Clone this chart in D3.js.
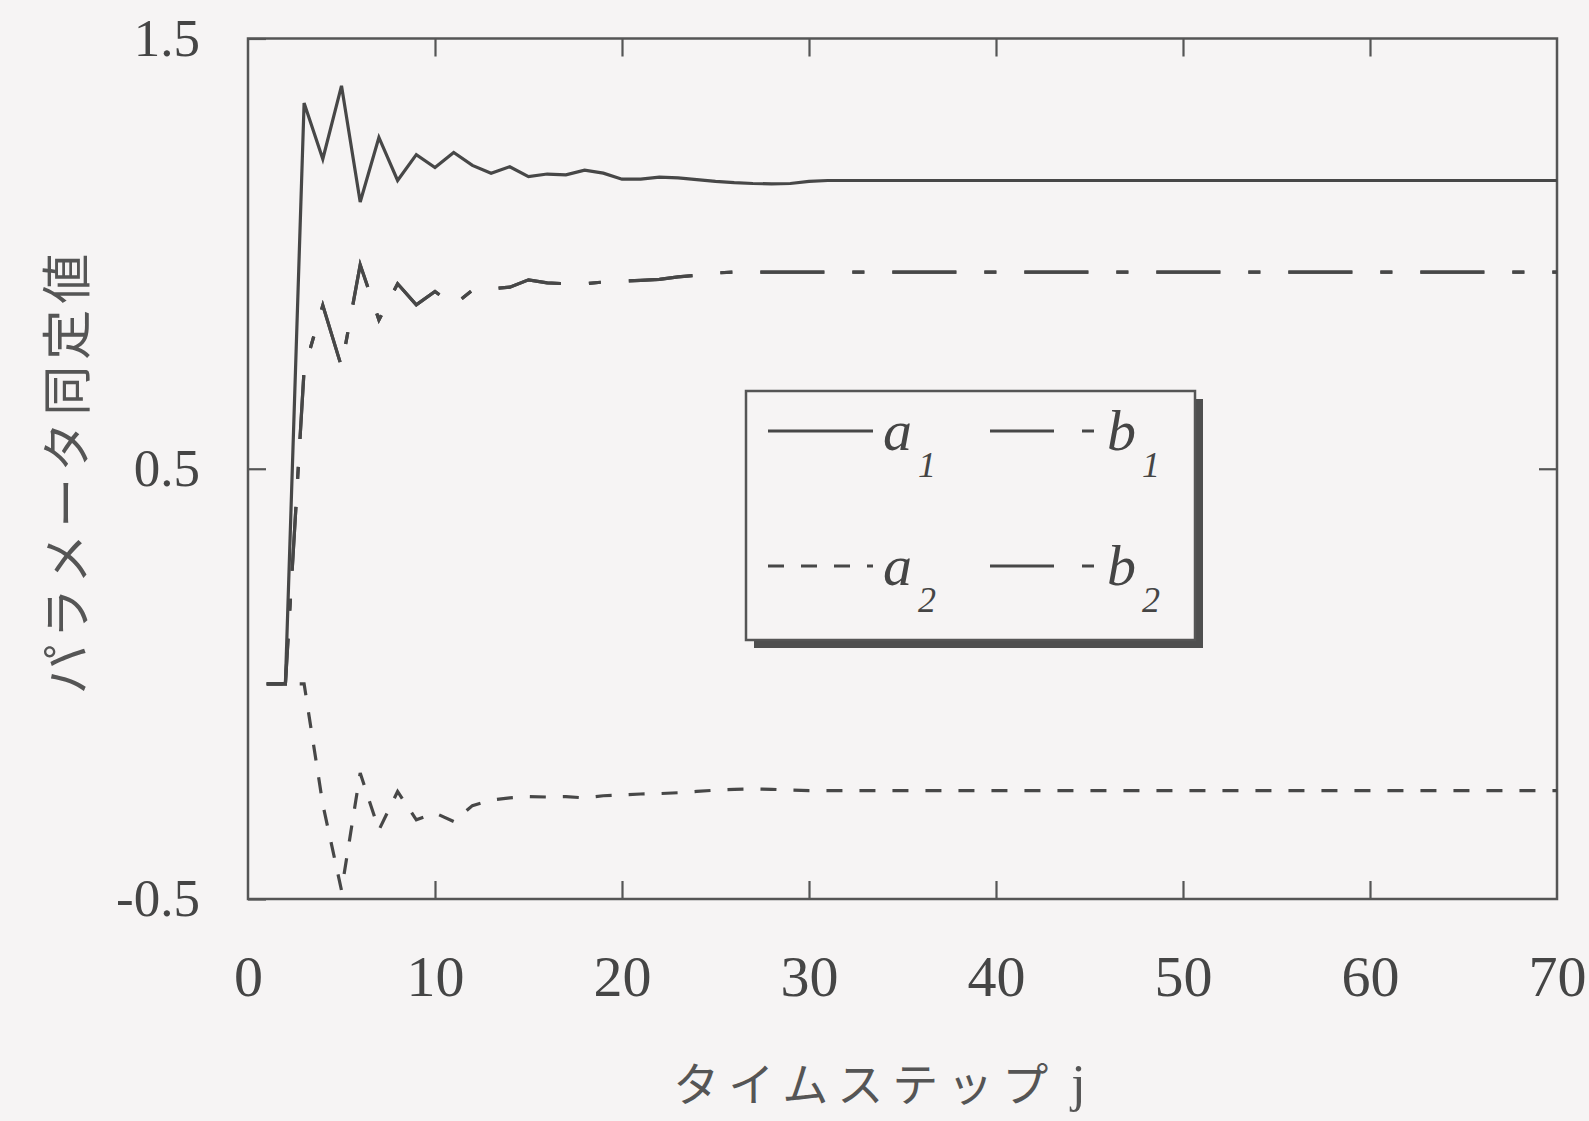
<!DOCTYPE html>
<html>
<head>
<meta charset="utf-8">
<script src="https://cdn.jsdelivr.net/npm/d3@7"></script>
<style>
  body { margin: 0; background: #f6f4f4; }
  svg { display: block; }
  .tick text { font-family: "Liberation Serif", "Times New Roman", serif; fill: #454545; }
  .tick line { stroke: #555; stroke-width: 2.2; }
</style>
</head>
<body>
<svg id="chart"></svg>
<script>
// chart size and plot box
let width = 1589
let height = 1121
let margin = {top: 38.5, right: 32, bottom: 222, left: 248}

let xScale; let yScale

// time steps j = 1 .. 70
let steps = d3.range(1, 71)

// values
let a1Values = [0, 0, 1.35, 1.22, 1.39, 1.12, 1.27, 1.17, 1.23, 1.20,
    1.235, 1.205, 1.187, 1.202, 1.179, 1.185, 1.183, 1.194, 1.187, 1.173,
    1.173, 1.178, 1.176, 1.172, 1.168, 1.165, 1.163, 1.162, 1.163, 1.168,
    1.17, 1.17, 1.17, 1.17, 1.17, 1.17, 1.17, 1.17, 1.17, 1.17,
    1.17, 1.17, 1.17, 1.17, 1.17, 1.17, 1.17, 1.17, 1.17, 1.17,
    1.17, 1.17, 1.17, 1.17, 1.17, 1.17, 1.17, 1.17, 1.17, 1.17,
    1.17, 1.17, 1.17, 1.17, 1.17, 1.17, 1.17, 1.17, 1.17, 1.17]

let a2Values = [0, 0, 0, -0.28, -0.48, -0.207, -0.34, -0.25, -0.316, -0.30,
    -0.32, -0.283, -0.27, -0.265, -0.262, -0.263, -0.262, -0.265, -0.26, -0.258,
    -0.256, -0.255, -0.253, -0.25, -0.247, -0.245, -0.244, -0.245, -0.247, -0.248,
    -0.248, -0.248, -0.248, -0.248, -0.248, -0.248, -0.248, -0.248, -0.248, -0.248,
    -0.248, -0.248, -0.248, -0.248, -0.248, -0.248, -0.248, -0.248, -0.248, -0.248,
    -0.248, -0.248, -0.248, -0.248, -0.248, -0.248, -0.248, -0.248, -0.248, -0.248,
    -0.248, -0.248, -0.248, -0.248, -0.248, -0.248, -0.248, -0.248, -0.248, -0.248]

let b1Values = [0, 0, 0.73, 0.88, 0.737, 0.974, 0.846, 0.93, 0.881, 0.912,
    0.88, 0.915, 0.918, 0.922, 0.939, 0.932, 0.93, 0.93, 0.934, 0.936,
    0.938, 0.94, 0.946, 0.95, 0.955, 0.957, 0.957, 0.957, 0.957, 0.957,
    0.957, 0.957, 0.957, 0.957, 0.957, 0.957, 0.957, 0.957, 0.957, 0.957,
    0.957, 0.957, 0.957, 0.957, 0.957, 0.957, 0.957, 0.957, 0.957, 0.957,
    0.957, 0.957, 0.957, 0.957, 0.957, 0.957, 0.957, 0.957, 0.957, 0.957,
    0.957, 0.957, 0.957, 0.957, 0.957, 0.957, 0.957, 0.957, 0.957, 0.957]

// b2 lies on top of b1 in the picture
let b2Values = b1Values.slice()

let seriesNames = ['a1', 'a2', 'b1', 'b2']
let seriesSubs = ['1', '2', '1', '2']
let seriesLetters = ['a', 'a', 'b', 'b']
let seriesDash = ['none', '16,17', '64,28,12,28', '64,28,12,28']

let xTickValues = [0, 10, 20, 30, 40, 50, 60, 70]
let xTickLabels = ['0', '10', '20', '30', '40', '50', '60', '70']
let yTickValues = [-0.5, 0.5, 1.5]
let yTickLabels = ['-0.5', '0.5', '1.5']

let xTitle = 'タイムステップ'
let yTitle = 'パラメータ同定値'

let dataset = seriesNames.map((name, i) => ({
    name: name,
    letter: seriesLetters[i],
    sub: seriesSubs[i],
    dash: seriesDash[i],
    values: [a1Values, a2Values, b1Values, b2Values][i].map((v, k) => ({j: steps[k], v: v}))
}))

let svg = d3.select('#chart')
            .attr('width', width)
            .attr('height', height)

function buildScale() {
    xScale = d3.scaleLinear()
        .domain([0, 70])
        .range([margin.left, width - margin.right])
    yScale = d3.scaleLinear()
        .domain([-0.5, 1.5])
        .range([height - margin.bottom, margin.top])
}

function buildAxes() {
    let xAxis = d3.axisBottom(xScale)
        .tickValues(xTickValues)
        .tickFormat((d, i) => xTickLabels[i])
        .tickSize(-18)
        .tickPadding(60)
    let gx = svg.append('g')
        .attr('transform', 'translate(0,' + (height - margin.bottom) + ')')
        .call(xAxis)
    gx.select('.domain').remove()
    gx.selectAll('.tick text').style('font-size', '58px').attr('dy', '0.32em').attr('y', 78)
    gx.selectAll('.tick').filter(d => d == 0 || d == 70).select('line').remove()

    let xTop = d3.axisTop(xScale).tickValues(xTickValues.slice(1, -1)).tickSize(-18).tickFormat('')
    let gt = svg.append('g').attr('transform', 'translate(0,' + margin.top + ')').call(xTop)
    gt.select('.domain').remove()

    let yAxis = d3.axisLeft(yScale)
        .tickValues(yTickValues)
        .tickFormat((d, i) => yTickLabels[i])
        .tickSize(-18)
        .tickPadding(48)
    let gy = svg.append('g')
        .attr('transform', 'translate(' + margin.left + ',0)')
        .call(yAxis)
    gy.select('.domain').remove()
    gy.selectAll('.tick text').style('font-size', '53px').attr('dy', '0.32em')

    let yRight = d3.axisRight(yScale).tickValues([0.5]).tickSize(-18).tickFormat('')
    let gr = svg.append('g').attr('transform', 'translate(' + (width - margin.right) + ',0)').call(yRight)
    gr.select('.domain').remove()

    // plot frame
    svg.append('rect')
        .attr('x', margin.left)
        .attr('y', margin.top)
        .attr('width', width - margin.left - margin.right)
        .attr('height', height - margin.top - margin.bottom)
        .attr('fill', 'none')
        .attr('stroke', '#555')
        .attr('stroke-width', 2.5)

    // axis titles
    svg.append('text')
        .attr('transform', 'translate(63,' + 471 + ') rotate(-90)')
        .attr('text-anchor', 'middle')
        .attr('dominant-baseline', 'central')
        .style('font-family', '"Noto Sans CJK JP", sans-serif')
        .style('font-size', '50px')
        .style('letter-spacing', '6px')
        .attr('fill', '#555')
        .text(yTitle)

    let xt = svg.append('text')
        .attr('x', 884)
        .attr('y', 1101)
        .attr('text-anchor', 'middle')
        .style('font-family', '"Noto Sans CJK JP", sans-serif')
        .style('font-size', '46px')
        .style('letter-spacing', '9px')
        .attr('fill', '#555')
    xt.append('tspan').text(xTitle)
    xt.append('tspan')
        .attr('dx', 14)
        .style('font-family', '"Liberation Serif", serif')
        .style('font-size', '52px')
        .text('j')
}

function drawLines() {
    let line = d3.line()
        .x(d => xScale(d.j))
        .y(d => yScale(d.v))

    svg.append('g')
        .selectAll('path')
        .data(dataset)
        .enter()
        .append('path')
        .attr('d', d => line(d.values))
        .attr('fill', 'none')
        .attr('stroke', '#474747')
        .attr('stroke-width', 3.2)
        .attr('stroke-linejoin', 'miter')
        .attr('stroke-dasharray', d => d.dash)
}

function drawLegend() {
    let bx = 746, by = 391, bw = 449, bh = 249
    let lg = svg.append('g')

    lg.append('rect')
        .attr('x', bx + 8).attr('y', by + 8)
        .attr('width', bw).attr('height', bh)
        .attr('fill', '#4f4f4f')
    lg.append('rect')
        .attr('x', bx).attr('y', by)
        .attr('width', bw).attr('height', bh)
        .attr('fill', '#f6f4f4')
        .attr('stroke', '#555')
        .attr('stroke-width', 2.5)

    let items = lg.selectAll('g.item')
        .data(dataset)
        .enter()
        .append('g')
        .attr('class', 'item')
        .attr('transform', (d, i) => 'translate(' + (i < 2 ? 768 : 990) + ',' + (i % 2 == 0 ? 431 : 566) + ')')

    items.append('line')
        .attr('x1', 0).attr('x2', d => d.letter == 'a' ? 105 : 104)
        .attr('y1', 0).attr('y2', 0)
        .attr('stroke', '#474747')
        .attr('stroke-width', 3)
        .attr('stroke-dasharray', d => d.dash)

    let label = items.append('text')
        .attr('x', d => d.letter == 'a' ? 115 : 117)
        .attr('y', 19)
        .style('font-family', '"Liberation Serif", serif')
        .style('font-style', 'italic')
        .attr('fill', '#454545')
    label.append('tspan')
        .style('font-size', '58px')
        .text(d => d.letter)
    label.append('tspan')
        .attr('dx', 6)
        .attr('dy', 27)
        .style('font-size', '36px')
        .text(d => d.sub)
}

buildScale()
buildAxes()
drawLines()
drawLegend()
</script>
</body>
</html>
